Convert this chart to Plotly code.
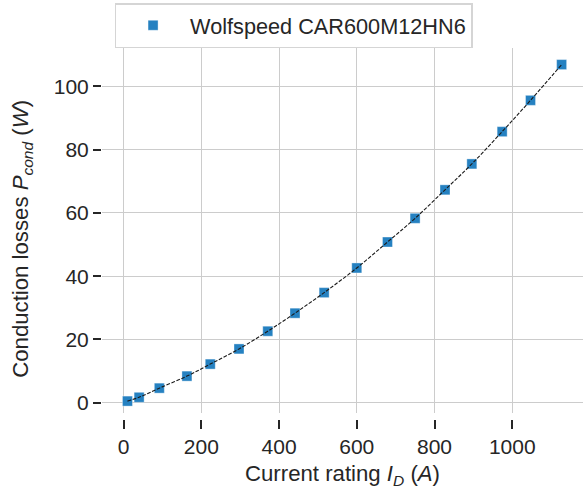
import plotly.graph_objects as go

# ---- data ----
current_A = [10, 40, 92, 163, 223, 297, 371, 441, 516, 600, 679, 750, 827, 896, 974, 1047, 1127]
loss_W = [0.5, 1.7, 4.6, 8.4, 12.2, 17.0, 22.6, 28.3, 34.8, 42.6, 50.8, 58.3, 67.3, 75.5, 85.7, 95.6, 106.9]
series_name = "Wolfspeed CAR600M12HN6"
x_ticks = [0, 200, 400, 600, 800, 1000]
y_ticks = [0, 20, 40, 60, 80, 100]
x_title = "Current rating <i>I</i><sub><i>D</i></sub> (<i>A</i>)"
y_title = "Conduction losses <i>P</i><sub><i>cond</i></sub> (<i>W</i>)&nbsp;&nbsp;&#8201;"

# ---- layout geometry (pixels) ----
W, H = 587, 493
L, R, T = 101.7, 583.3, 48.3
plot_bottom = 413.0
tick_axis_y = 419.0
x_range = [-55.5, 1182]
y_range = [-3.26, 112.15]

text_col = "#262626"
grid_col = "#cccccc"
font_family = "Liberation Sans, Arial, sans-serif"
fs = 21
title_fs = 22.2

ydom0 = (tick_axis_y - plot_bottom) / (tick_axis_y - T)

fig = go.Figure()
fig.add_trace(go.Scatter(
    x=current_A, y=loss_W, mode="markers", name=series_name,
    marker=dict(symbol="square", size=10, color="#2581c1",
                line=dict(color="rgba(255,255,255,0.6)", width=0.6)),
))
fig.add_trace(go.Scatter(
    x=current_A, y=loss_W, mode="lines", line_shape="spline",
    line=dict(color="#1a1a1a", width=1.1, dash="3.7px,1.6px"),
    showlegend=False, hoverinfo="skip",
))
# invisible trace carrying the offset tick axis
fig.add_trace(go.Scatter(
    x=current_A, y=loss_W, xaxis="x2", mode="markers",
    marker=dict(opacity=0), showlegend=False, hoverinfo="skip",
))

fig.update_layout(
    width=W, height=H,
    margin=dict(l=L, r=W - R, t=T, b=H - tick_axis_y, pad=0),
    paper_bgcolor="white", plot_bgcolor="white",
    font=dict(family=font_family, size=fs, color=text_col),
    showlegend=True,
    legend=dict(
        x=(W / 2 - L) / (R - L), xanchor="center",
        y=(tick_axis_y - 3.5) / (tick_axis_y - T), yanchor="top",
        bordercolor="#d5d5d5", borderwidth=1.5, bgcolor="white",
        font=dict(size=21.7, color=text_col), itemwidth=64,
    ),
    xaxis=dict(
        range=x_range, domain=[0, 1], tickvals=x_ticks, showticklabels=False,
        ticks="", showgrid=True, gridcolor=grid_col, gridwidth=1.3,
        zeroline=False, showline=False,
    ),
    xaxis2=dict(
        overlaying="x", anchor="free", position=0, range=x_range,
        tickvals=x_ticks, ticks="outside", ticklen=9, tickwidth=1.6,
        tickcolor=text_col, showgrid=False, zeroline=False, showline=False,
        tickfont=dict(size=fs, color=text_col),
        title=dict(text=x_title, standoff=8, font=dict(size=title_fs, color=text_col)),
    ),
    yaxis=dict(
        domain=[ydom0, 1], range=y_range, tickvals=y_ticks,
        ticks="outside", ticklen=8, tickwidth=1.6, tickcolor=text_col,
        showgrid=True, gridcolor=grid_col, gridwidth=1.3,
        zeroline=False, showline=False,
        tickfont=dict(size=fs, color=text_col),
        title=dict(text=y_title, standoff=18, font=dict(size=title_fs, color=text_col)),
    ),
)

fig.write_html("out.html")
